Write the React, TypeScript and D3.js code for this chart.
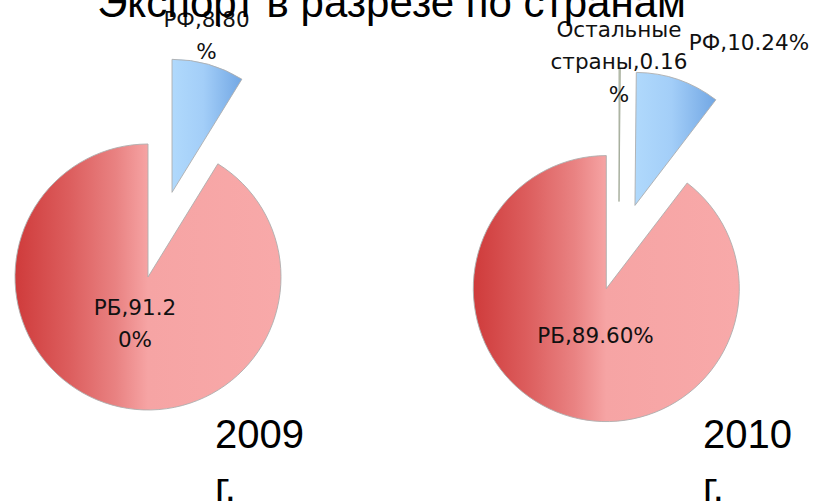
import React from 'react';
import * as d3 from 'd3';

// values (percent of export)
const categories2009 = ['РФ', 'РБ'];
const values2009 = [8.8, 91.2];
const categories2010 = ['Остальные страны', 'РФ', 'РБ'];
const values2010 = [0.16, 10.24, 89.6];
const yearLabels = ['2009', '2010'];
const title = 'Экспорт в разрезе по странам';

const width = 817;
const height = 503;
const radius = 133;

// pie placement and label placement (layout only)
const pieLayout = [
  { cx: 148, cy: 277, yearX: 215 },
  { cx: 606.3, cy: 288.6, yearX: 703 },
];
// per category: how far the slice is pulled out, optional pull direction (deg)
const explode = { 'РФ': { d: 88 }, 'РБ': { d: 0 }, 'Остальные страны': { d: 88, angle: 8.3 } };
// label anchors [x, first baseline] and line breaks, per pie, per slice
const labelLayout = [
  [
    { x: 206.5, y: 27, breaks: [7] },
    { x: 135, y: 315, breaks: [7] },
  ],
  [
    { x: 619, y: 37, breaks: [9, 21] },
    { x: 749, y: 50, breaks: [] },
    { x: 595.5, y: 343, breaks: [] },
  ],
];
const lineHeight = 32.3;

const fills = { 'РФ': 'url(#gBlue)', 'РБ': 'url(#gRed)', 'Остальные страны': '#c9d0bd' };

function splitLabel(text, breaks) {
  const out = [];
  let prev = 0;
  breaks.forEach((b) => {
    out.push(text.slice(prev, b).trim());
    prev = b;
  });
  out.push(text.slice(prev).trim());
  return out;
}

const Pie = ({ idx, categories, values }) => {
  const { cx, cy } = pieLayout[idx];
  const data = categories.map((c, i) => ({ name: c, value: values[i] }));
  const arcs = d3.pie().sort(null).value((d) => d.value)(data);
  const arc = d3.arc().innerRadius(0).outerRadius(radius);

  return (
    <g>
      {arcs.map((a, i) => {
        const ex = explode[a.data.name];
        const mid = ex.angle !== undefined ? (ex.angle * Math.PI) / 180 : (a.startAngle + a.endAngle) / 2;
        const dx = ex.d * Math.sin(mid);
        const dy = -ex.d * Math.cos(mid);
        return (
          <path
            key={i}
            d={arc(a)}
            transform={`translate(${cx + dx},${cy + dy})`}
            fill={fills[a.data.name]}
            stroke={a.data.name === 'Остальные страны' ? '#a3aa98' : '#aeaeae'}
            strokeWidth={0.9}
          />
        );
      })}
      {arcs.map((a, i) => {
        const lab = labelLayout[idx][i];
        const txt = `${a.data.name},${a.data.value.toFixed(2)}%`;
        const lines = splitLabel(txt, lab.breaks);
        return (
          <text
            key={'l' + i}
            x={lab.x}
            y={lab.y}
            textAnchor="middle"
            fontFamily="DejaVu Sans, sans-serif"
            fontSize={21.5}
            fill="#111"
          >
            {lines.map((ln, j) => (
              <tspan key={j} x={lab.x} y={lab.y + j * lineHeight}>
                {ln}
              </tspan>
            ))}
          </text>
        );
      })}
      <text fontFamily="Liberation Sans, Arial, sans-serif" fontSize={40} fill="#000">
        <tspan x={pieLayout[idx].yearX} y={448}>{yearLabels[idx]}</tspan>
        <tspan x={pieLayout[idx].yearX} y={501}>г.</tspan>
      </text>
    </g>
  );
};

export default function App() {
  return (
    <svg
      width={width}
      height={height}
      style={{ position: 'absolute', left: 0, top: 0, background: '#fff' }}
    >
      <defs>
        <linearGradient id="gRed" x1="0" y1="0" x2="1" y2="0">
          <stop offset="0" stopColor="#cf3b3b" />
          <stop offset="0.2" stopColor="#dc5d5d" />
          <stop offset="0.38" stopColor="#e98282" />
          <stop offset="0.5" stopColor="#f6a4a4" />
          <stop offset="1" stopColor="#f8a9a9" />
        </linearGradient>
        <linearGradient id="gBlue" x1="0" y1="0" x2="1" y2="0">
          <stop offset="0" stopColor="#b0d9fc" />
          <stop offset="0.45" stopColor="#a3cef8" />
          <stop offset="1" stopColor="#72a7e4" />
        </linearGradient>
      </defs>
      <Pie idx={0} categories={categories2009} values={values2009} />
      <Pie idx={1} categories={categories2010} values={values2010} />
      <text
        x={391.5}
        y={17}
        textAnchor="middle"
        fontFamily="Liberation Sans, Arial, sans-serif"
        fontSize={42}
        fill="#000"
      >
        {title}
      </text>
    </svg>
  );
}
